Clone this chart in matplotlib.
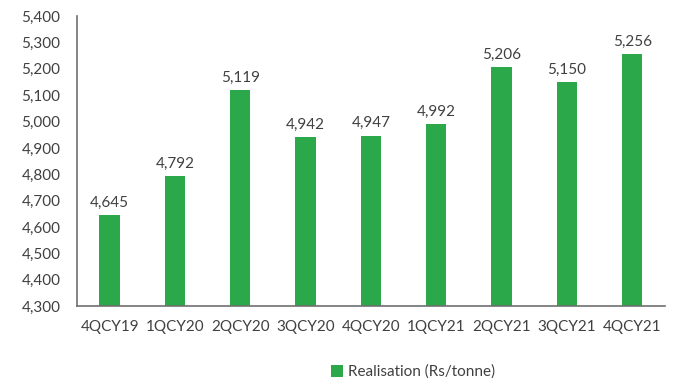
import matplotlib
matplotlib.use("Agg")
import matplotlib.pyplot as plt
from matplotlib.ticker import FuncFormatter

quarters = ["4QCY19", "1QCY20", "2QCY20", "3QCY20", "4QCY20",
            "1QCY21", "2QCY21", "3QCY21", "4QCY21"]
realisation = [4645, 4792, 5119, 4942, 4947, 4992, 5206, 5150, 5256]

green = "#2aa84a"
txt = "#404040"
plt.rcParams["font.family"] = ["Lato", "DejaVu Sans"]

fig = plt.figure(figsize=(6.75, 3.85), dpi=100)
ax = fig.add_axes([0.114, 0.205, 0.871, 0.753])

x = range(len(quarters))
ax.bar(x, realisation, width=0.31, color=green, label="Realisation (Rs/tonne)")
for i, v in zip(x, realisation):
    ax.text(i, v + 20, f"{v:,}", ha="center", va="bottom", fontsize=11, color=txt)

ax.set_ylim(4300, 5400)
ax.set_yticks(range(4300, 5401, 100))
ax.yaxis.set_major_formatter(FuncFormatter(lambda v, p: f"{int(v):,}"))
ax.set_xlim(-0.5, len(quarters) - 0.5)
ax.set_xticks(list(x))
ax.set_xticklabels(quarters)
ax.tick_params(axis="both", length=0, labelsize=11, labelcolor=txt)
ax.tick_params(axis="x", pad=10)
ax.tick_params(axis="y", pad=12)

for s in ["top", "right"]:
    ax.spines[s].set_visible(False)
for s in ["left", "bottom"]:
    ax.spines[s].set_color("#707070")
    ax.spines[s].set_linewidth(1.2)

fig.legend(loc="center", bbox_to_anchor=(0.612, 0.034), frameon=False,
           fontsize=11, handlelength=0.8, handleheight=0.8,
           handletextpad=0.3, labelcolor=txt)

fig.savefig("out.png", dpi=100)
